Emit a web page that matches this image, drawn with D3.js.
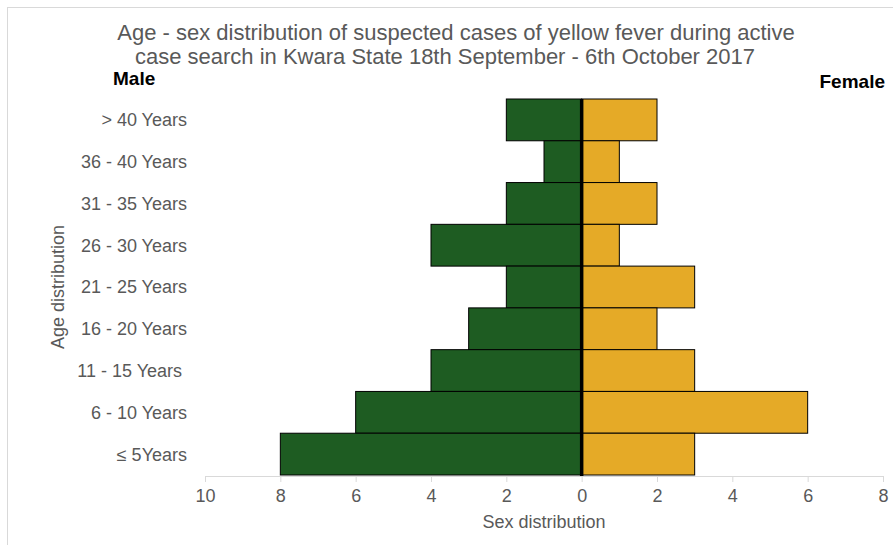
<!DOCTYPE html>
<html><head><meta charset="utf-8">
<script src="https://cdn.jsdelivr.net/npm/d3@7"></script>
<style>body{margin:0;background:#fff}svg{display:block;font-family:"Liberation Sans",Arial,sans-serif}</style>
</head><body><svg id="c" width="893" height="545"></svg>
<script>
const categories = ["> 40 Years","36 - 40 Years","31 - 35 Years","26 - 30 Years","21 - 25 Years","16 - 20 Years","11 - 15 Years ","6 - 10 Years","\u2264 5Years"];
const male = [2,1,2,4,2,3,4,6,8];
const female = [2,1,2,1,3,2,3,6,3];
const xTicks = [-10,-8,-6,-4,-2,0,2,4,6,8];

const svg = d3.select("#c");
svg.append("rect").attr("x",7.5).attr("y",7.5).attr("width",900).attr("height",545)
  .attr("fill","none").attr("stroke","#d9d9d9").attr("stroke-width",1);

const x = d3.scaleLinear().domain([-10,8]).range([205,883]);
const y = d3.scaleBand().domain(categories).range([99,475]).padding(0);

// axis
const ax = svg.append("g").attr("transform","translate(0,476)")
  .call(d3.axisBottom(x).tickValues(xTicks).tickFormat(d=>Math.abs(d)).tickSize(6).tickPadding(7));
ax.select(".domain").attr("stroke","#d9d9d9");
ax.selectAll(".tick line").attr("stroke","#d9d9d9");
ax.selectAll(".tick text").attr("fill","#595959").attr("font-size",18).attr("font-family","Liberation Sans, Arial, sans-serif");

// bars
svg.append("g").selectAll("rect").data(categories).join("rect")
  .attr("x",(d,i)=>x(-male[i])).attr("y",d=>y(d))
  .attr("width",(d,i)=>x(0)-x(-male[i])).attr("height",y.bandwidth())
  .attr("fill","#1e5c22").attr("stroke","#000").attr("stroke-width",1);
svg.append("g").selectAll("rect").data(categories).join("rect")
  .attr("x",x(0)).attr("y",d=>y(d))
  .attr("width",(d,i)=>x(female[i])-x(0)).attr("height",y.bandwidth())
  .attr("fill","#e5aa27").attr("stroke","#000").attr("stroke-width",1);

// center line
svg.append("line").attr("x1",x(0)).attr("x2",x(0)).attr("y1",99).attr("y2",476)
  .attr("stroke","#000").attr("stroke-width",3.5);

// category labels
svg.append("g").selectAll("text").data(categories).join("text")
  .attr("x",187).attr("y",d=>y(d)+y.bandwidth()/2).attr("dy","0.36em")
  .attr("text-anchor","end").attr("fill","#595959").attr("font-size",18)
  .style("white-space","pre").text(d=>d);

// axis titles
svg.append("text").attr("transform","translate(64,287) rotate(-90)")
  .attr("text-anchor","middle").attr("fill","#595959").attr("font-size",18).text("Age distribution");
svg.append("text").attr("x",544).attr("y",528).attr("text-anchor","middle")
  .attr("fill","#595959").attr("font-size",18).text("Sex distribution");

// title
const t = svg.append("text").attr("text-anchor","middle").attr("fill","#595959").attr("font-size",22);
t.append("tspan").attr("x",456).attr("y",40).text("Age - sex distribution of suspected cases of yellow fever during active");
t.append("tspan").attr("x",445).attr("y",64).text("case search in Kwara State 18th September - 6th October 2017");

svg.append("text").attr("x",113).attr("y",85).attr("font-weight","bold").attr("font-size",19).attr("fill","#000").text("Male");
svg.append("text").attr("x",885).attr("y",88).attr("text-anchor","end").attr("font-weight","bold").attr("font-size",19).attr("fill","#000").text("Female");
</script></body></html>
